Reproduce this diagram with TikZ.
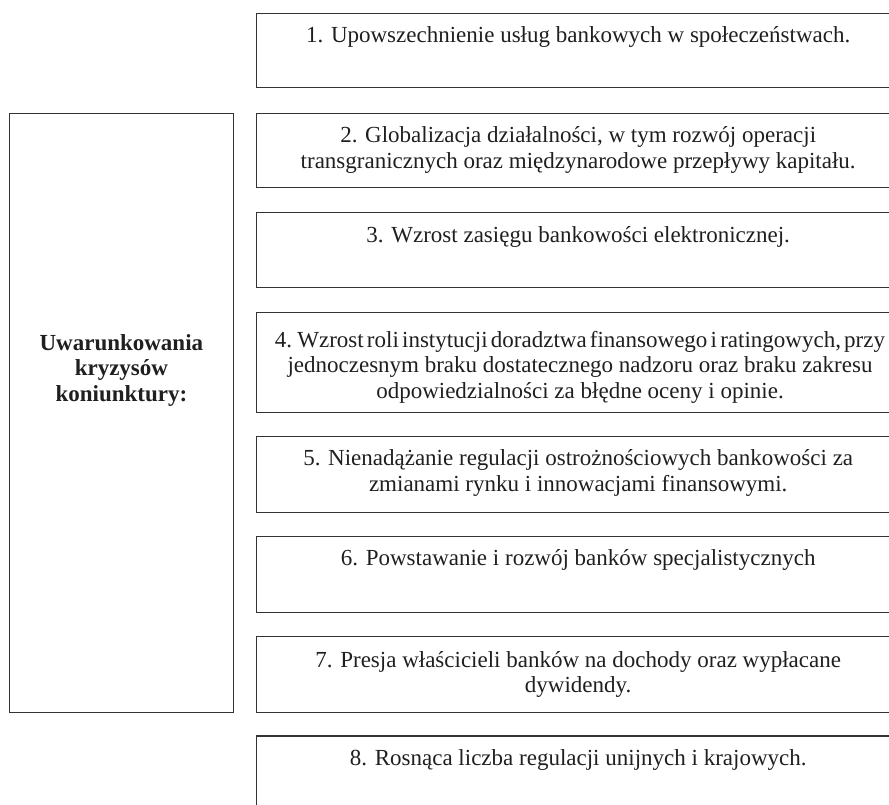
\documentclass[tikz,border=0pt]{standalone}
\usepackage{fontspec}
\setmainfont{Liberation Serif}
\begin{document}
\begin{tikzpicture}[x=1pt,y=-1pt,
  box/.style={draw=black!80, line width=1.1pt, rectangle, inner sep=0pt, minimum width=643.7pt},
  txt/.style={anchor=north, inner sep=0pt, align=center, text=black!88, font=\fontsize{23}{25.5}\selectfont},
  lbl/.style={anchor=north, inner sep=0pt, align=center, text=black!88, font=\fontsize{23}{25.5}\selectfont\bfseries}]
\useasboundingbox (0,0) rectangle (889,805);
\clip (0,0) rectangle (889,805);
% left box
\node[box, minimum width=223.3pt, minimum height=599pt] (L) at (121.4,412.8) {};
\node[lbl] (Lt) at (121.4,334.3) {Uwarunkowania\\kryzysów\\koniunktury:};
% right boxes
\node[box, minimum height=74.4pt] (b1) at (578.2,50.5) {};
\node[txt] (t1) at (578.2,26.8) {1. Upowszechnienie usług bankowych w społeczeństwach.};
\node[box, minimum height=74pt] (b2) at (578.2,150.3) {};
\node[txt] (t2) at (578.2,126.8) {2. Globalizacja działalności, w tym rozwój operacji\\transgranicznych oraz międzynarodowe przepływy kapitału.};
\node[box, minimum height=74.6pt] (b3) at (578.2,250) {};
\node[txt] (t3) at (578.2,226.8) {3. Wzrost zasięgu bankowości elektronicznej.};
\node[box, minimum height=99.6pt] (b4) at (578.2,362.5) {};
\node[txt] (t4) at (580,330.8) {{\spaceskip=3.2pt\relax 4. Wzrost roli instytucji doradztwa finansowego i ratingowych, przy}\\jednoczesnym braku dostatecznego nadzoru oraz braku zakresu\\odpowiedzialności za błędne oceny i opinie.};
\node[box, minimum height=75.7pt] (b5) at (578.2,474.2) {};
\node[txt] (t5) at (578.2,449.8) {5. Nienadążanie regulacji ostrożnościowych bankowości za\\zmianami rynku i innowacjami finansowymi.};
\node[box, minimum height=76pt] (b6) at (578.2,574.3) {};
\node[txt] (t6) at (578.2,549.8) {6. Powstawanie i rozwój banków specjalistycznych};
\node[box, minimum height=75.6pt] (b7) at (578.2,674.5) {};
\node[txt] (t7) at (578.2,651.3) {7. Presja właścicieli banków na dochody oraz wypłacane\\dywidendy.};
\node[box, minimum height=75pt] (b8) at (578.2,773.5) {};
\node[txt] (t8) at (578.2,749.8) {8. Rosnąca liczba regulacji unijnych i krajowych.};
\end{tikzpicture}
\end{document}
